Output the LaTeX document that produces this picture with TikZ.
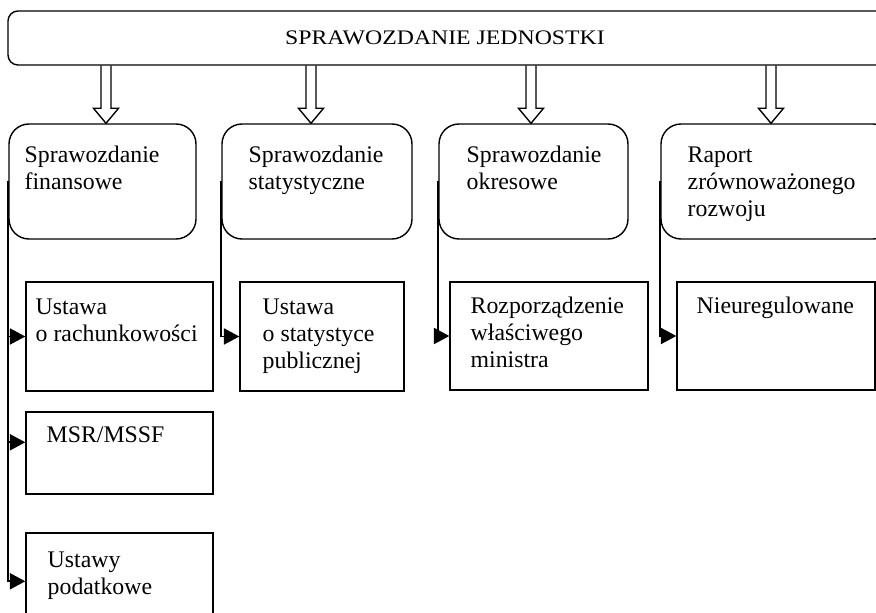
\documentclass[tikz,border=0pt]{standalone}
\usepackage{fontspec}
\setmainfont{Liberation Serif}
\newfontfamily\titlefont[FakeStretch=1.15]{Liberation Serif}
\usetikzlibrary{arrows.meta,calc,fit}
\newcommand\bodyfont{\fontsize{17.85}{20.25}\selectfont}
\newcommand\txt[1]{\begin{tabular}[t]{@{}l@{}}#1\end{tabular}}
\newcommand\hollowdown[3]{%
  \draw ($(#2.south -| #1)+(-5,0)$) -- ($(#3.north -| #1)+(-5,-15)$)
    -- ($(#3.north -| #1)+(-12.5,-15)$) -- (#3.north -| #1)
    -- ($(#3.north -| #1)+(12.5,-15)$) -- ($(#3.north -| #1)+(5,-15)$)
    -- ($(#2.south -| #1)+(5,0)$);}
\begin{document}
\begin{tikzpicture}[x=0.75pt, y=-0.75pt, line width=1.05pt,
  topbox/.style={draw, rounded corners=7.5pt, inner sep=0pt},
  rbox/.style={draw, rounded corners=15pt, inner sep=0pt},
  sbox/.style={draw, inner sep=0pt},
  lbl/.style={anchor=base west, inner sep=0pt, font=\bodyfont},
  conn/.style={line width=1.3pt, -{Triangle[length=11.5pt,width=12pt]}}]
\useasboundingbox (0,0) rectangle (876,613);
\clip (0,0) rectangle (876,613);

% top box
\node[topbox, fit={(8,11) (900,65)}] (top) {};
\node[anchor=base, inner sep=0pt, font=\titlefont\fontsize{15.5}{18}\selectfont] (title) at (445,45) {SPRAWOZDANIE JEDNOSTKI};

% second level
\node[rbox, fit={(9,124) (196,239)}] (b1) {};
\node[rbox, fit={(222,124) (412,239)}] (b2) {};
\node[rbox, fit={(439,124) (628,239)}] (b3) {};
\node[rbox, fit={(661,124) (893,239)}] (b4) {};
\node[lbl] (t1) at (24,163) {\txt{Sprawozdanie\\finansowe}};
\node[lbl] (t2) at (248,163) {\txt{Sprawozdanie\\statystyczne}};
\node[lbl] (t3) at (466,163) {\txt{Sprawozdanie\\okresowe}};
\node[lbl] (t4) at (687,163) {\txt{Raport\\zrównoważonego\\rozwoju}};

% hollow arrows
\coordinate (x1) at (106,0);
\coordinate (x2) at (311,0);
\coordinate (x3) at (531,0);
\coordinate (x4) at (771,0);
\hollowdown{x1}{top}{b1}
\hollowdown{x2}{top}{b2}
\hollowdown{x3}{top}{b3}
\hollowdown{x4}{top}{b4}

% third level
\node[sbox, fit={(26,282) (213,391)}] (u1) {};
\node[sbox, fit={(240,282) (404,391)}] (u2) {};
\node[sbox, fit={(450,282) (648,390)}] (u3) {};
\node[sbox, fit={(677,282) (875,390)}] (u4) {};
\node[sbox, fit={(26,412) (213,494)}] (m1) {};
\node[sbox, fit={(26,533) (213,630)}] (p1) {};

\node[lbl] (tu1) at (35,315) {\txt{Ustawa\\o rachunkowości}};
\node[lbl] (tu2) at (262,315) {\txt{Ustawa\\o statystyce\\publicznej}};
\node[lbl] (tu3) at (470,314) {\txt{Rozporządzenie\\właściwego\\ministra}};
\node[lbl] (tu4) at (696,314) {Nieuregulowane};
\node[lbl] (tm1) at (46,443) {MSR/MSSF};
\node[lbl] (tp1) at (47,567) {\txt{Ustawy\\podatkowe}};

% connectors
\draw[conn] (b1.west) |- (u1.west);
\draw[conn] (b1.west) |- ($(m1.north west)+(0,31)$);
\draw[conn] (b1.west) |- ($(p1.north west)+(0,49)$);
\draw[conn] (b2.west) |- (u2.west);
\draw[conn] (b3.west) |- (u3.west);
\draw[conn] (b4.west) |- (u4.west);
\end{tikzpicture}
\end{document}
